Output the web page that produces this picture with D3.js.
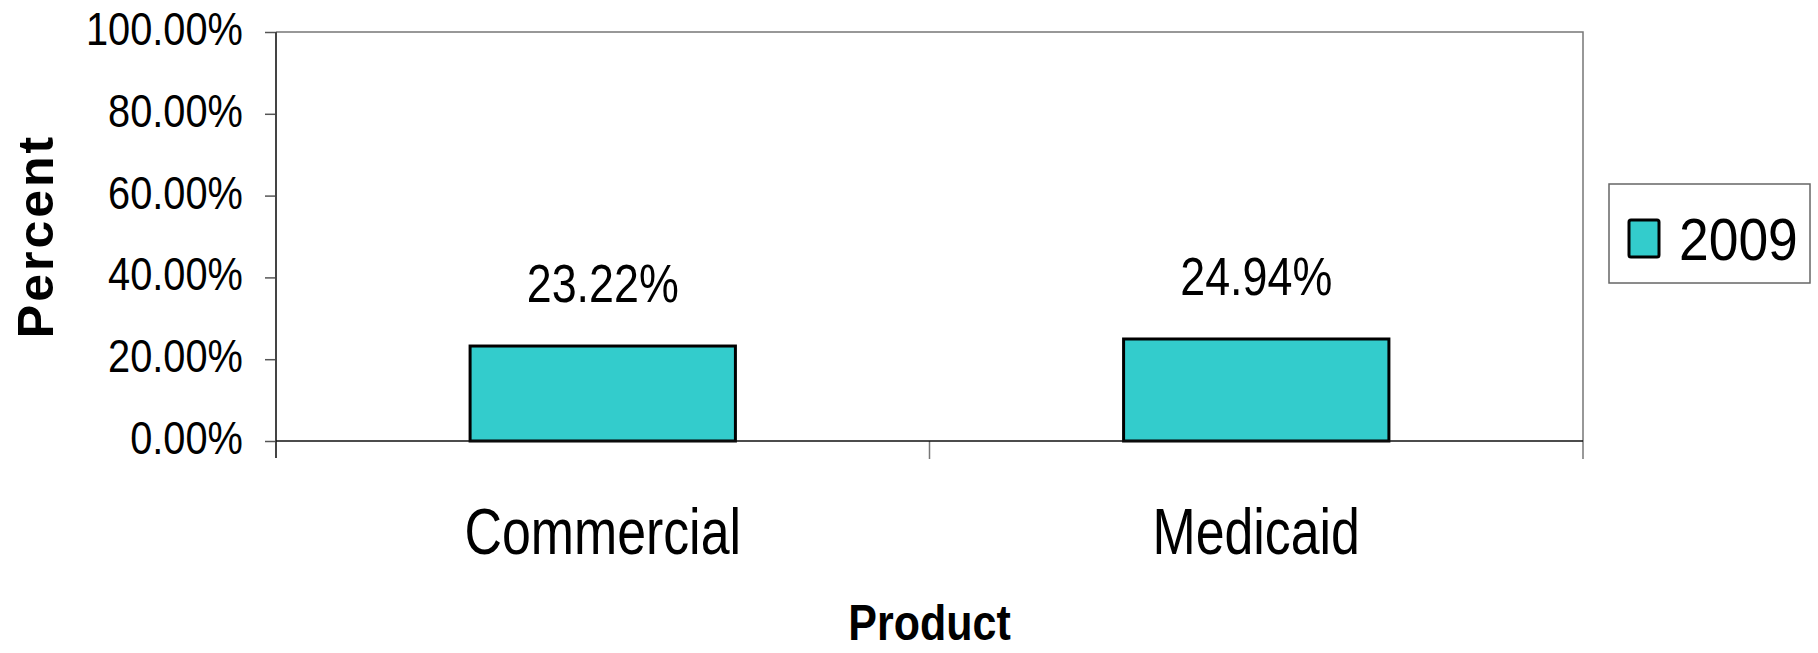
<!DOCTYPE html>
<html>
<head>
<meta charset="utf-8">
<script src="https://cdn.jsdelivr.net/npm/d3@7"></script>
<style>
  html, body { margin: 0; padding: 0; background: #ffffff; }
  svg { display: block; }
  text { font-family: Arial, "Liberation Sans", Helvetica, sans-serif; fill: #000; }
</style>
</head>
<body>
<svg id="chart" width="1818" height="653"></svg>
<script>
// ---- data ----
const categories = ["Commercial", "Medicaid"];
const values2009 = [0.2322, 0.2494];
const valueLabels = ["23.22%", "24.94%"];
const seriesName = "2009";
const yTicks = [0, 0.2, 0.4, 0.6, 0.8, 1.0];
const xTitle = "Product";
const yTitle = "Percent";

// ---- layout ----
const W = 1818, H = 653;
const plot = { left: 276, right: 1583, top: 32, bottom: 441 };
const svg = d3.select("#chart");

const x = d3.scaleBand()
  .domain(categories)
  .range([plot.left, plot.right])
  .paddingInner(0.594)
  .paddingOuter(0.297);

const y = d3.scaleLinear().domain([0, 1]).range([plot.bottom, plot.top]);
const fmt = d3.format(".2%");

// plot area border (top and right, gray)
svg.append("path")
  .attr("d", `M${plot.left},${plot.top}H${plot.right}V${plot.bottom}`)
  .attr("fill", "none").attr("stroke", "#777").attr("stroke-width", 1.5);

// y axis
const yAxis = d3.axisLeft(y).tickValues(yTicks).tickSize(11).tickFormat("");
const yg = svg.append("g").attr("transform", `translate(${plot.left},0)`).call(yAxis);
yg.select(".domain").remove();
yg.selectAll(".tick line").attr("stroke", "#555").attr("stroke-width", 1.5);
// y axis line (extends below zero as category boundary)
svg.append("line")
  .attr("x1", plot.left).attr("x2", plot.left)
  .attr("y1", plot.top).attr("y2", plot.bottom + 17)
  .attr("stroke", "#444").attr("stroke-width", 2);

// y tick labels
svg.append("g").selectAll("text").data(yTicks).join("text")
  .attr("transform", d => `translate(${plot.left - 33},${y(d) + 13}) scale(0.865,1)`)
  .attr("text-anchor", "end")
  .style("font-size", "46px")
  .text(d => fmt(d));

// category boundary ticks
const step = x.step();
const boundaries = categories.map(c => x(c) - step * x.paddingInner() / 2 + step).slice(0, -1)
  .concat([plot.right]);
svg.append("g").selectAll("line").data(boundaries).join("line")
  .attr("x1", d => d).attr("x2", d => d)
  .attr("y1", plot.bottom).attr("y2", plot.bottom + 18)
  .attr("stroke", "#777").attr("stroke-width", 1.5);

// bars
svg.append("g").selectAll("rect").data(categories).join("rect")
  .attr("x", d => x(d))
  .attr("y", (d, i) => y(values2009[i]))
  .attr("width", x.bandwidth())
  .attr("height", (d, i) => y(0) - y(values2009[i]))
  .attr("fill", "#33CCCC")
  .attr("stroke", "#000")
  .attr("stroke-width", 3);

// zero line
svg.append("line")
  .attr("x1", plot.left).attr("x2", plot.right)
  .attr("y1", plot.bottom).attr("y2", plot.bottom)
  .attr("stroke", "#111").attr("stroke-width", 1.5);

// value labels
svg.append("g").selectAll("text").data(categories).join("text")
  .attr("transform", (d, i) => `translate(${x(d) + x.bandwidth() / 2},${y(values2009[i]) - 44}) scale(0.83,1)`)
  .attr("text-anchor", "middle")
  .style("font-size", "54px")
  .text((d, i) => valueLabels[i]);

// category labels
svg.append("g").selectAll("text").data(categories).join("text")
  .attr("transform", d => `translate(${x(d) + x.bandwidth() / 2},554) scale(0.81,1)`)
  .attr("text-anchor", "middle")
  .style("font-size", "64px")
  .text(d => d);

// x axis title
svg.append("text")
  .attr("transform", `translate(${(plot.left + plot.right) / 2},640) scale(0.86,1)`)
  .attr("text-anchor", "middle")
  .style("font-size", "50px").style("font-weight", "bold")
  .text(xTitle);

// y axis title
svg.append("text")
  .attr("transform", `translate(53,236) rotate(-90)`)
  .attr("text-anchor", "middle")
  .style("font-size", "50px").style("font-weight", "bold")
  .style("letter-spacing", "3px")
  .text(yTitle);

// legend
const lg = svg.append("g");
lg.append("rect")
  .attr("x", 1609).attr("y", 184).attr("width", 201).attr("height", 99)
  .attr("fill", "#fff").attr("stroke", "#666").attr("stroke-width", 1.5);
lg.append("rect")
  .attr("x", 1629).attr("y", 220).attr("width", 30).attr("height", 37)
  .attr("rx", 2)
  .attr("fill", "#33CCCC").attr("stroke", "#000").attr("stroke-width", 3);
lg.append("text")
  .attr("transform", "translate(1679,260) scale(0.89,1)")
  .style("font-size", "60px")
  .text(seriesName);
</script>
</body>
</html>
